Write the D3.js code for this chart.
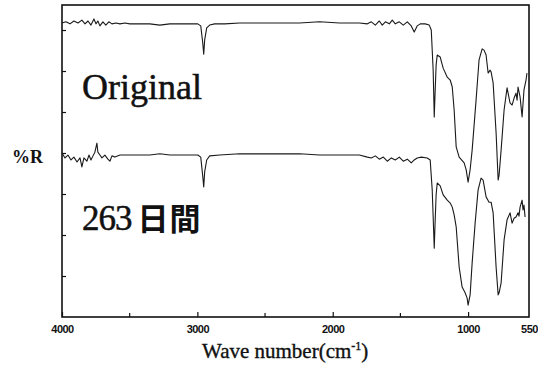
<!DOCTYPE html>
<html>
<head>
<meta charset="utf-8">
<script src="https://cdn.jsdelivr.net/npm/d3@7"></script>
<style>
  body { margin: 0; background: #fff; }
  svg { display: block; }
  .serif { font-family: "Liberation Serif", "Times New Roman", serif; }
  .tick text { font-family: "Liberation Sans", Arial, sans-serif; }
</style>
</head>
<body>
<div id="chart"></div>
<script>
// IR reflectance spectra, wavenumber (cm-1) vs %R (arbitrary offset units)
const origWave = [4000, 3971, 3941, 3912, 3882, 3853, 3830, 3808, 3786, 3764, 3749, 3735, 3720, 3698, 3676,
  3654, 3631, 3602, 3572, 3536, 3499, 3425, 3351, 3277, 3204, 3130, 3056, 2997, 2975, 2961, 2953, 2946,
  2931, 2909, 2872, 2798, 2688, 2540, 2393, 2245, 2098, 1950, 1803, 1744, 1715, 1685, 1656, 1634, 1611,
  1582, 1560, 1538, 1508, 1479, 1449, 1420, 1398, 1376, 1353, 1317, 1287, 1272, 1258, 1250, 1243, 1236,
  1228, 1206, 1184, 1154, 1132, 1117, 1103, 1088, 1066, 1029, 1014, 1000, 985, 970, 941, 919, 896, 882,
  867, 852, 837, 830, 815, 793, 778, 771, 756, 734, 712, 690, 675, 660, 646, 638, 631, 616, 601, 587, 572, 565];
const origR = [71.7, 72.0, 71.5, 72.2, 71.7, 72.4, 71.5, 72.2, 71.2, 72.7, 71.5, 72.2, 71.0, 72.0, 71.2,
  72.0, 71.5, 71.7, 71.5, 71.7, 71.5, 71.5, 71.5, 71.2, 71.5, 71.5, 71.5, 71.5, 71.0, 67.1, 64.1, 67.6,
  70.5, 71.2, 71.5, 71.5, 71.7, 71.7, 71.7, 71.7, 72.0, 71.7, 71.7, 71.5, 72.0, 71.2, 72.2, 71.2, 72.0,
  71.5, 72.4, 71.5, 72.0, 71.2, 72.0, 71.0, 69.5, 71.0, 71.5, 71.5, 71.2, 70.0, 60.2, 48.8, 55.4, 61.5,
  63.9, 63.4, 60.7, 58.5, 57.8, 56.1, 50.5, 41.5, 39.0, 37.6, 35.9, 32.9, 35.9, 40.7, 52.9, 62.7, 65.4, 65.1,
  63.9, 59.5, 60.2, 59.8, 57.1, 44.9, 33.4, 34.6, 40.7, 50.5, 55.9, 52.2, 51.7, 53.4, 54.6, 52.9, 56.1,
  53.7, 48.8, 55.4, 57.8, 59.5];

const agedWave = [4000, 3978, 3956, 3934, 3912, 3889, 3867, 3853, 3838, 3816, 3801, 3786, 3771, 3757, 3742,
  3735, 3720, 3705, 3683, 3661, 3646, 3631, 3609, 3572, 3499, 3425, 3351, 3277, 3204, 3130, 3056, 2997,
  2975, 2961, 2953, 2946, 2931, 2909, 2835, 2688, 2540, 2393, 2245, 2098, 1950, 1803, 1744, 1715, 1685,
  1656, 1626, 1597, 1567, 1538, 1508, 1479, 1449, 1420, 1398, 1376, 1346, 1302, 1280, 1265, 1250, 1243,
  1236, 1228, 1206, 1184, 1154, 1132, 1117, 1103, 1088, 1066, 1044, 1022, 1007, 1000, 985, 970, 948, 926,
  904, 889, 867, 845, 830, 815, 793, 778, 771, 756, 734, 712, 690, 675, 660, 646, 631, 624, 616, 601, 594,
  587, 579];
const agedR = [40.0, 38.8, 39.5, 38.3, 39.0, 37.8, 38.8, 36.6, 38.8, 38.0, 39.5, 38.3, 39.3, 40.2, 42.4,
  40.2, 39.5, 38.8, 39.5, 38.5, 38.0, 39.3, 39.0, 39.5, 39.5, 39.5, 39.5, 39.8, 39.5, 39.5, 39.5, 39.5,
  39.0, 34.6, 31.7, 35.4, 38.3, 39.3, 39.5, 39.8, 39.8, 39.8, 39.8, 39.5, 39.5, 39.5, 39.0, 38.8, 39.3,
  38.5, 39.0, 38.0, 38.8, 38.3, 39.0, 38.0, 38.5, 37.6, 38.3, 38.8, 39.0, 38.8, 38.3, 31.0, 16.8, 23.7,
  29.8, 32.7, 32.0, 29.8, 28.5, 27.8, 26.8, 24.9, 22.0, 12.2, 7.3, 5.9, 4.6, 2.9, 5.4, 13.2, 22.9, 31.0,
  33.9, 33.4, 29.3, 28.0, 28.0, 25.4, 12.2, 5.4, 5.9, 8.3, 18.8, 23.7, 25.4, 22.9, 24.1, 24.4, 25.4,
  24.6, 26.8, 28.5, 26.1, 27.3, 24.4];

const majorTicks = [4000, 3000, 2000, 1000, 550];
const minorTicks = [3500, 2500, 1500];
const yTicks = [10, 20, 30, 40, 50, 60, 70];

const W = 538, H = 369;
const margin = { left: 62, right: 529, top: 5, bottom: 317 };

const svg = d3.select('#chart').append('svg')
  .attr('width', W).attr('height', H);

const x = d3.scaleLinear().domain([4000, 550]).range([margin.left, margin.right]);
const y = d3.scaleLinear().domain([0, 76.1]).range([margin.bottom, margin.top]);

// x axis, ticks pointing inward
const xAxis = svg.append('g')
  .attr('transform', 'translate(0,' + margin.bottom + ')')
  .call(d3.axisBottom(x).tickValues(majorTicks).tickSizeInner(-5).tickSizeOuter(0)
    .tickPadding(8).tickFormat(d3.format('d')));
xAxis.attr('font-family', null).attr('font-size', null);
xAxis.select('.domain').remove();
xAxis.selectAll('line').attr('stroke', '#111').attr('stroke-width', 1.2);
xAxis.selectAll('text')
  .style('font-weight', 'bold')
  .style('font-size', '11px')
  .attr('letter-spacing', -0.5)
  .attr('fill', '#111');
// no tick mark at 550 (frame edge)
xAxis.selectAll('.tick').filter(d => d === 550).select('line').remove();

svg.append('g')
  .selectAll('line')
  .data(minorTicks)
  .join('line')
  .attr('x1', d => x(d)).attr('x2', d => x(d))
  .attr('y1', margin.bottom).attr('y2', margin.bottom - 4)
  .attr('stroke', '#111').attr('stroke-width', 1.2);

const yAxis = svg.append('g')
  .attr('transform', 'translate(' + margin.left + ',0)')
  .call(d3.axisLeft(y).tickValues(yTicks).tickSizeInner(-4).tickSizeOuter(0).tickFormat(''));
yAxis.select('.domain').remove();
yAxis.selectAll('line').attr('stroke', '#111').attr('stroke-width', 1.2);

// frame
svg.append('rect')
  .attr('x', margin.left).attr('y', margin.top)
  .attr('width', margin.right - margin.left).attr('height', margin.bottom - margin.top)
  .attr('fill', 'none').attr('stroke', '#111').attr('stroke-width', 1.6);

const line = d3.line()
  .x(d => x(d[0]))
  .y(d => y(d[1]));

svg.append('path')
  .datum(d3.zip(origWave, origR))
  .attr('d', line)
  .attr('fill', 'none').attr('stroke', '#1a1a1a').attr('stroke-width', 1.1)
  .attr('stroke-linejoin', 'round');

svg.append('path')
  .datum(d3.zip(agedWave, agedR))
  .attr('d', line)
  .attr('fill', 'none').attr('stroke', '#1a1a1a').attr('stroke-width', 1.1)
  .attr('stroke-linejoin', 'round');

// labels
svg.append('text')
  .attr('class', 'serif')
  .attr('x', 82).attr('y', 99)
  .style('font-size', '36px')
  .attr('fill', '#111').attr('stroke', '#111').attr('stroke-width', 0.5)
  .text('Original');

const aged = svg.append('text')
  .attr('x', 82).attr('y', 230)
  .attr('fill', '#111');
aged.append('tspan')
  .attr('class', 'serif')
  .style('font-size', '35px')
  .attr('stroke', '#111').attr('stroke-width', 0.5)
  .attr('letter-spacing', -1)
  .text('263');
aged.append('tspan')
  .attr('dx', 6)
  .style('font-family', '"Noto Sans CJK JP", sans-serif')
  .style('font-weight', 'bold')
  .style('font-size', '31px')
  .attr('letter-spacing', 1)
  .text('日間');

svg.append('text')
  .attr('class', 'serif')
  .attr('x', 12).attr('y', 163)
  .style('font-weight', 'bold')
  .style('font-size', '18px')
  .attr('fill', '#111')
  .text('%R');

const xt = svg.append('text')
  .attr('class', 'serif')
  .attr('x', 202).attr('y', 358)
  .style('font-size', '21px')
  .attr('fill', '#111').attr('stroke', '#111').attr('stroke-width', 0.35)
  .text('Wave number(cm');
xt.append('tspan').style('font-size', '12px').attr('dy', -8).text('-1');
xt.append('tspan').attr('dy', 8).text(')');
</script>
</body>
</html>
